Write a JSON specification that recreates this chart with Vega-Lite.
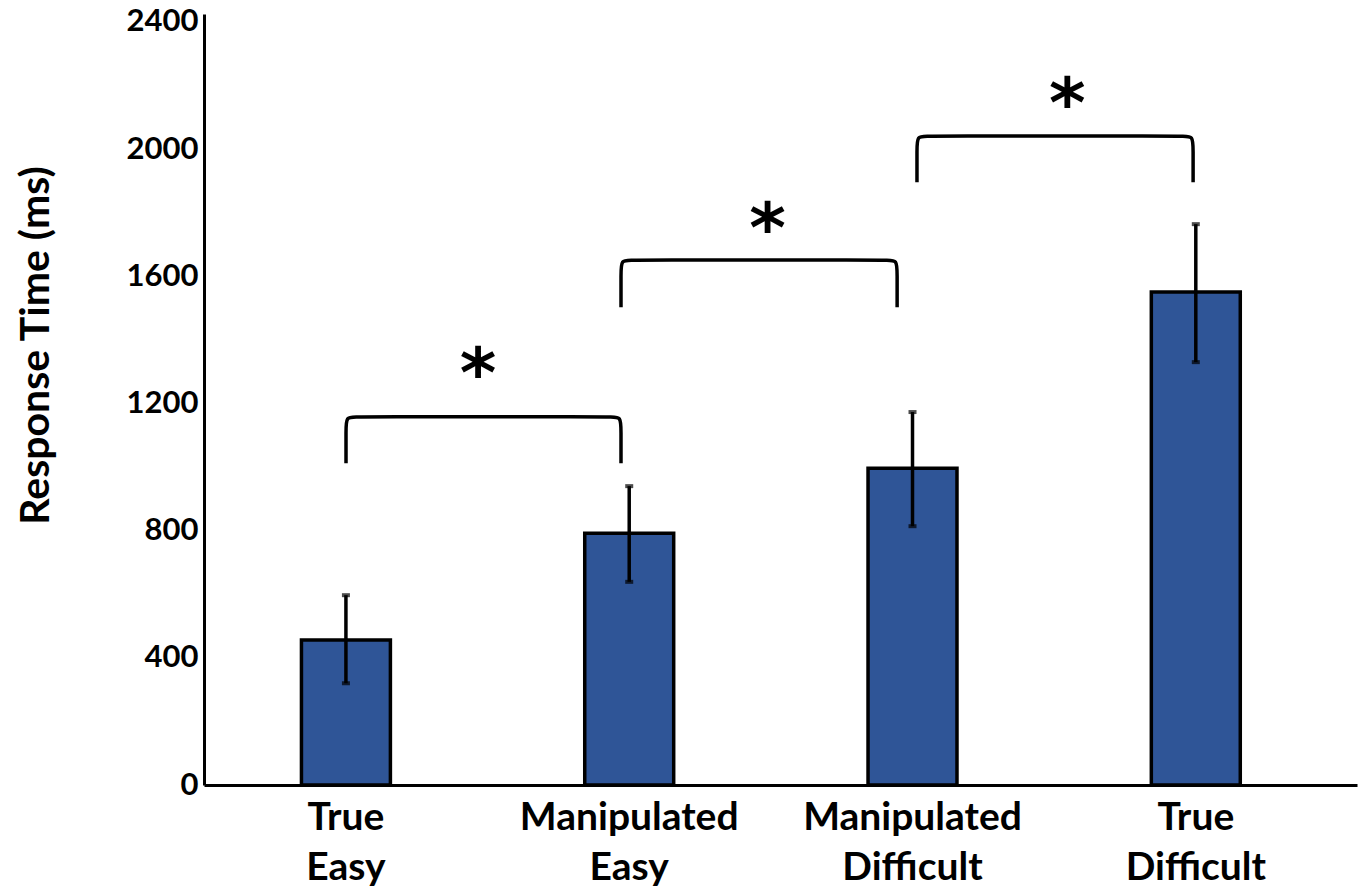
{
  "$schema": "https://vega.github.io/schema/vega-lite/v6.json",
  "width": 1153,
  "height": 771,
  "autosize": "none",
  "padding": {"left": 204, "top": 14, "right": 2, "bottom": 105},
  "background": "white",
  "config": {
    "view": {"stroke": null},
    "font": "Lato",
    "axis": {"grid": false, "ticks": false, "domainColor": "black", "domainWidth": 3, "labelColor": "black", "labelFont": "Lato", "labelFontWeight": "bold", "titleFont": "Lato", "titleFontWeight": "bold", "titleColor": "black"}
  },
  "datasets": {
    "bars": [
      {"condition": "True Easy", "rt": 456, "lower": 320, "upper": 597},
      {"condition": "Manipulated Easy", "rt": 792, "lower": 639, "upper": 940},
      {"condition": "Manipulated Difficult", "rt": 996, "lower": 814, "upper": 1173},
      {"condition": "True Difficult", "rt": 1551, "lower": 1330, "upper": 1764}
    ],
    "brackets": [
      {"b": 1, "o": 1, "px": 1.0, "py": 1012},
      {"b": 1, "o": 2, "px": 1.0, "py": 1118},
      {"b": 1, "o": 3, "px": 1.0, "py": 1158},
      {"b": 1, "o": 4, "px": 1.035, "py": 1158},
      {"b": 1, "o": 5, "px": 1.935, "py": 1158},
      {"b": 1, "o": 6, "px": 1.97, "py": 1158},
      {"b": 1, "o": 7, "px": 1.97, "py": 1118},
      {"b": 1, "o": 8, "px": 1.97, "py": 1012},
      {"b": 2, "o": 1, "px": 1.97, "py": 1503},
      {"b": 2, "o": 2, "px": 1.97, "py": 1612},
      {"b": 2, "o": 3, "px": 1.97, "py": 1651},
      {"b": 2, "o": 4, "px": 2.005, "py": 1651},
      {"b": 2, "o": 5, "px": 2.909, "py": 1651},
      {"b": 2, "o": 6, "px": 2.944, "py": 1651},
      {"b": 2, "o": 7, "px": 2.944, "py": 1612},
      {"b": 2, "o": 8, "px": 2.944, "py": 1503},
      {"b": 3, "o": 1, "px": 3.014, "py": 1896},
      {"b": 3, "o": 2, "px": 3.014, "py": 2002},
      {"b": 3, "o": 3, "px": 3.014, "py": 2041},
      {"b": 3, "o": 4, "px": 3.049, "py": 2041},
      {"b": 3, "o": 5, "px": 3.953, "py": 2041},
      {"b": 3, "o": 6, "px": 3.988, "py": 2041},
      {"b": 3, "o": 7, "px": 3.988, "py": 2002},
      {"b": 3, "o": 8, "px": 3.988, "py": 1896}
    ],
    "stars": [
      {"px": 1.466, "py": 1330, "label": "*"},
      {"px": 2.487, "py": 1786, "label": "*"},
      {"px": 3.544, "py": 2179, "label": "*"}
    ]
  },
  "resolve": {"scale": {"x": "independent"}},
  "layer": [
    {
      "data": {"name": "bars"},
      "layer": [
        {
          "mark": {"type": "bar", "fill": "#2F5597", "stroke": "black", "strokeWidth": 3.5},
          "encoding": {
            "x": {"field": "condition", "type": "nominal", "sort": null,
                  "scale": {"paddingInner": 0.686, "paddingOuter": 0.378, "align": 0.455},
                  "axis": {"title": null, "labelAngle": 0, "labelFontSize": 39, "labelLimit": 0, "labelPadding": 13, "labelBaseline": "top", "labelLineHeight": 50, "labelExpr": "split(datum.label, ' ')"}},
            "y": {"field": "rt", "type": "quantitative",
                  "scale": {"domain": [0, 2425], "nice": false},
                  "axis": {"title": "Response Time (ms)", "values": [0, 400, 800, 1200, 1600, 2000, 2400], "format": "d", "labelFontSize": 31, "labelPadding": 6, "titleFontSize": 41, "titlePadding": 69, "titleY": 331}}
          }
        },
        {
          "mark": {"type": "rule", "color": "black", "strokeWidth": 3.5},
          "encoding": {
            "x": {"field": "condition", "type": "nominal", "sort": null},
            "y": {"field": "lower", "type": "quantitative"},
            "y2": {"field": "upper"}
          }
        },
        {
          "mark": {"type": "tick", "color": "black", "size": 8, "thickness": 4},
          "encoding": {
            "x": {"field": "condition", "type": "nominal", "sort": null},
            "y": {"field": "lower", "type": "quantitative"}
          }
        },
        {
          "mark": {"type": "tick", "color": "black", "size": 8, "thickness": 4},
          "encoding": {
            "x": {"field": "condition", "type": "nominal", "sort": null},
            "y": {"field": "upper", "type": "quantitative"}
          }
        }
      ]
    },
    {
      "data": {"name": "brackets"},
      "mark": {"type": "line", "color": "black", "strokeWidth": 3.5, "interpolate": "basis"},
      "encoding": {
        "x": {"field": "px", "type": "quantitative", "scale": {"domain": [0.4991, 4.5661], "nice": false, "zero": false}, "axis": null},
        "y": {"field": "py", "type": "quantitative"},
        "detail": {"field": "b"},
        "order": {"field": "o"}
      }
    },
    {
      "data": {"name": "stars"},
      "mark": {"type": "text", "font": "DejaVu Sans", "fontWeight": "bold", "fontSize": 70, "baseline": "middle", "dy": 14, "color": "black"},
      "encoding": {
        "x": {"field": "px", "type": "quantitative", "scale": {"domain": [0.4991, 4.5661], "nice": false, "zero": false}, "axis": null},
        "y": {"field": "py", "type": "quantitative"},
        "text": {"field": "label"}
      }
    }
  ]
}
